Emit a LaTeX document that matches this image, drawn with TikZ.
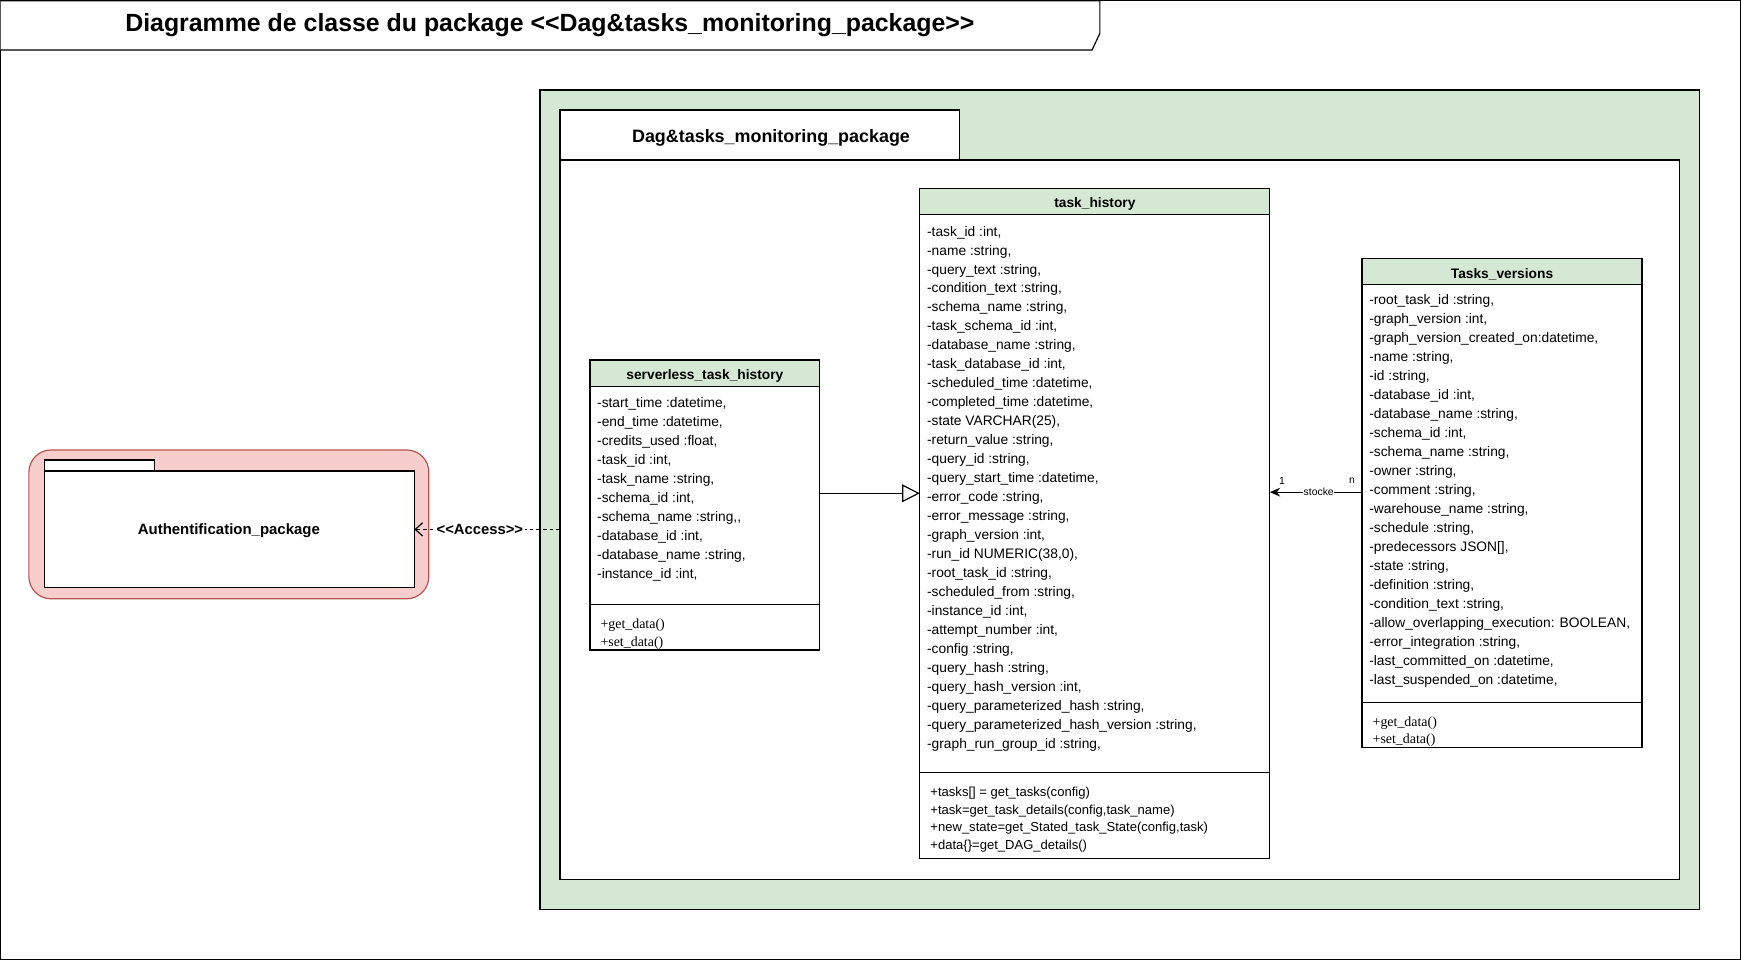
\documentclass[tikz,border=0pt]{standalone}
\usepackage{fontspec}
\setmainfont{Liberation Sans}
\newfontfamily\serifm{Liberation Serif}
\usetikzlibrary{arrows.meta,fit}
\definecolor{pkggreen}{HTML}{D5E8D4}
\definecolor{pkgpink}{HTML}{F8CECC}
\definecolor{pkgred}{HTML}{B85450}
\newcommand\dlt{<\kern0pt<}
\newcommand\dgt{>\kern0pt>}
\begin{document}
\begin{tikzpicture}[x=0.75pt,y=-0.75pt, line width=0.8pt,
 box/.style={draw=black, inner sep=0pt, outer sep=0pt},
 attr/.style={font=\fontsize{9.3}{11}\selectfont, inner sep=0pt, anchor=base west},
 methserif/.style={font=\serifm\fontsize{9.4}{11}\selectfont, inner sep=0pt, anchor=base west},
 methsans/.style={font=\fontsize{8.8}{11}\selectfont, inner sep=0pt, anchor=base west},
 hdr/.style={font=\bfseries\fontsize{9.3}{11}\selectfont, inner sep=0pt},
 small/.style={font=\fontsize{7}{8}\selectfont, inner sep=0.5pt},
]
\useasboundingbox (0,0) rectangle (1568,865);
% outer frame
\draw (0.6,0.6) rectangle (1566.5,863.5);
% title tab
\draw[fill=white] (0.6,0.6) -- (990,0.6) -- (990,30) -- (983,45) -- (0.6,45);
\node[font=\bfseries\fontsize{16.8}{20}\selectfont, inner sep=0pt] (title) at (495,22.5) {Diagramme de classe du package \dlt Dag\&tasks\_monitoring\_package\dgt};

% Dag package
\node[box, fill=pkggreen, fit={(486,81) (1530,819)}] (dagouter) {};
\node[box, fill=white, fit={(504,99) (864,144)}] (dagtab) {};
\node[box, fill=white, fit={(504,144) (1512,792)}] (dagbody) {};
\node[font=\bfseries\fontsize{12.1}{14}\selectfont, inner sep=0pt] (daglabel) at (694,124) {Dag\&tasks\_monitoring\_package};

% Authentification package
\node[draw=pkgred, fill=pkgpink, rounded corners=15pt, inner sep=0pt, fit={(26,405) (386,539)}] (authouter) {};
\node[box, fill=white, fit={(40,414) (139,424)}] (authtab) {};
\node[box, fill=white, fit={(40,424) (373,529)}] (authbody) {};
\node[font=\bfseries\fontsize{10.1}{12}\selectfont, inner sep=0pt] (authlabel) at (206,478) {Authentification\_package};

% serverless_task_history
\node[box, fill=white, fit={(531,324) (738,585)}] (sth) {};
\node[box, fill=pkggreen, fit={(531,324) (738,348)}] (sthhead) {};
\node[hdr] (sthtitle) at (634.5,338) {serverless\_task\_history};
\draw (531,544) -- (738,544);
\foreach \t [count=\i] in {{-start\_time :datetime,},{-end\_time :datetime,},{-credits\_used :float,},{-task\_id :int,},{-task\_name :string,},{-schema\_id :int,},{-schema\_name :string,\kern0pt,},{-database\_id :int,},{-database\_name :string,},{-instance\_id :int,}}
  \node[attr] (sth-a\i) at (537,{362+4.5+(\i-1)*17.1}) {\t};
\foreach \t [count=\i] in {{+get\_data()},{+set\_data()}}
  \node[methserif] (sth-m\i) at (540,{561+4.5+(\i-1)*16}) {\t};

% task_history
\node[box, fill=white, fit={(828,170) (1143,773)}] (th) {};
\node[box, fill=pkggreen, fit={(828,170) (1143,193)}] (thhead) {};
\node[hdr] (thtitle) at (985.5,183.5) {task\_history};
\draw (828,695) -- (1143,695);
\foreach \t [count=\i] in {{-task\_id :int,},{-name :string,},{-query\_text :string,},{-condition\_text :string,},{-schema\_name :string,},{-task\_schema\_id :int,},{-database\_name :string,},{-task\_database\_id :int,},{-scheduled\_time :datetime,},{-completed\_time :datetime,},{-state VARCHAR(25),},{-return\_value :string,},{-query\_id :string,},{-query\_start\_time :datetime,},{-error\_code :string,},{-error\_message :string,},{-graph\_version :int,},{-run\_id NUMERIC(38,0),},{-root\_task\_id :string,},{-scheduled\_from :string,},{-instance\_id :int,},{-attempt\_number :int,},{-config :string,},{-query\_hash :string,},{-query\_hash\_version :int,},{-query\_parameterized\_hash :string,},{-query\_parameterized\_hash\_version :string,},{-graph\_run\_group\_id :string,}}
  \node[attr] (th-a\i) at (834,{208+4.5+(\i-1)*17.07}) {\t};
\foreach \t [count=\i] in {{+tasks[] = get\_tasks(config)},{+task=get\_task\_details(config,task\_name)},{+new\_state=get\_Stated\_task\_State(config,task)},{+data\{\}=get\_DAG\_details()}}
  \node[methsans] (th-m\i) at (837,{713+4.2+(\i-1)*15.67}) {\t};

% Tasks_versions
\node[box, fill=white, fit={(1226,233) (1478,673)}] (tv) {};
\node[box, fill=pkggreen, fit={(1226,233) (1478,256)}] (tvhead) {};
\node[hdr] (tvtitle) at (1352,246.5) {Tasks\_versions};
\draw (1226,632) -- (1478,632);
\foreach \t [count=\i] in {{-root\_task\_id :string,},{-graph\_version :int,},{-graph\_version\_created\_on:datetime,},{-name :string,},{-id :string,},{-database\_id :int,},{-database\_name :string,},{-schema\_id :int,},{-schema\_name :string,},{-owner :string,},{-comment :string,},{-warehouse\_name :string,},{-schedule :string,},{-predecessors JSON[],},{-state :string,},{-definition :string,},{-condition\_text :string,},{-allow\_overlapping\_execution: BOOLEAN,},{-error\_integration :string,},{-last\_committed\_on :datetime,},{-last\_suspended\_on :datetime,}}
  \node[attr] (tv-a\i) at (1232,{270+4.5+(\i-1)*17.1}) {\t};
\foreach \t [count=\i] in {{+get\_data()},{+set\_data()}}
  \node[methserif] (tv-m\i) at (1235,{649+4.5+(\i-1)*16}) {\t};

% generalization
\coordinate (g1) at (738,444);
\draw[-{Triangle[open,length=12pt,width=12pt]}] (sth.east |- g1) -- (th.west |- g1);

% stocke association
\coordinate (s1) at (1226,443);
\draw[-{Stealth[length=7pt,width=6pt]}] (tv.west |- s1) -- node[pos=0.47, small, fill=white] (stockelbl) {stocke} (th.east |- s1);
\node[small] (mult1) at (1154,433) {1};
\node[small] (multn) at (1217,433) {n};

% access dependency
\draw[dash pattern=on 2.5pt off 2pt, -{Straight Barb[length=5pt,width=9pt]}] (dagbody.west |- authbody.east) -- node[pos=0.55, fill=white, inner sep=1pt, font=\bfseries\fontsize{10}{12}\selectfont] (acclabel) {\dlt Access\dgt} (authbody.east);
\end{tikzpicture}
\end{document}
